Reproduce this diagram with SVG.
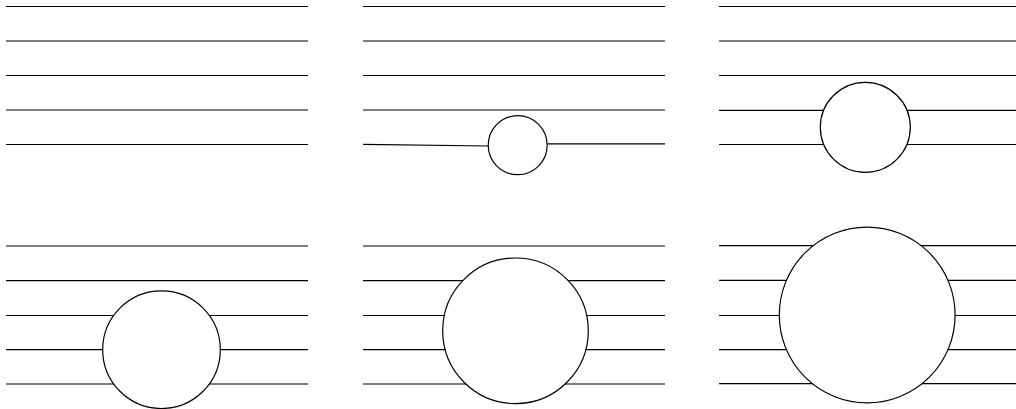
<svg xmlns="http://www.w3.org/2000/svg" width="1016" height="409" viewBox="0 0 1016 409">
<style>
.l{stroke:#000;stroke-width:1.2;fill:none}
.c{stroke:#000;stroke-width:1.2;fill:#fff}
</style>
<rect width="1016" height="409" fill="#fff"/>
<g id="connectors">
<g id="lines-p1">
<line class="l" x1="6" y1="6.5" x2="308" y2="6.5"/>
<line class="l" x1="6" y1="41" x2="308" y2="41"/>
<line class="l" x1="6" y1="75.5" x2="308" y2="75.5"/>
<line class="l" x1="6" y1="110" x2="308" y2="110"/>
<line class="l" x1="6" y1="144.5" x2="308" y2="144.5"/>
</g>
<g id="lines-p2">
<line class="l" x1="363" y1="6.5" x2="665" y2="6.5"/>
<line class="l" x1="363" y1="41" x2="665" y2="41"/>
<line class="l" x1="363" y1="75.5" x2="665" y2="75.5"/>
<line class="l" x1="363" y1="110" x2="665" y2="110"/>
<line class="l" x1="363" y1="144.3" x2="488.5" y2="146"/>
<line class="l" x1="547" y1="143.8" x2="665" y2="143.8"/>
</g>
<g id="lines-p3">
<line class="l" x1="719" y1="6.5" x2="1016" y2="6.5"/>
<line class="l" x1="719" y1="41" x2="1016" y2="41"/>
<line class="l" x1="719" y1="75.5" x2="1016" y2="75.5"/>
<line class="l" x1="719" y1="110.3" x2="1016" y2="110.3"/>
<line class="l" x1="719" y1="144.5" x2="1016" y2="144.5"/>
</g>
<g id="lines-p4">
<line class="l" x1="6" y1="246" x2="308" y2="246"/>
<line class="l" x1="6" y1="280.7" x2="308" y2="280.7"/>
<line class="l" x1="6" y1="315.5" x2="308" y2="315.5"/>
<line class="l" x1="6" y1="349.7" x2="308" y2="349.7"/>
<line class="l" x1="6" y1="384" x2="308" y2="384"/>
</g>
<g id="lines-p5">
<line class="l" x1="363" y1="246" x2="665" y2="246"/>
<line class="l" x1="363" y1="280.7" x2="665" y2="280.7"/>
<line class="l" x1="363" y1="315.5" x2="665" y2="315.5"/>
<line class="l" x1="363" y1="349.7" x2="665" y2="349.7"/>
<line class="l" x1="363" y1="384" x2="665" y2="384"/>
</g>
<g id="lines-p6">
<line class="l" x1="719" y1="245.7" x2="1016" y2="245.7"/>
<line class="l" x1="719" y1="280.3" x2="1016" y2="280.3"/>
<line class="l" x1="719" y1="315.5" x2="1016" y2="315.5"/>
<line class="l" x1="719" y1="349.7" x2="1016" y2="349.7"/>
<line class="l" x1="719" y1="383.7" x2="1016" y2="383.7"/>
</g>
</g>
<g id="circle-p2"><circle class="c" cx="517.7" cy="145.2" r="29.5"/></g>
<g id="circle-p3"><circle class="c" cx="865.3" cy="127.3" r="45"/></g>
<g id="circle-p4"><circle class="c" cx="161.5" cy="349.7" r="58.8"/></g>
<g id="circle-p5"><circle class="c" cx="515.5" cy="330.8" r="72.8"/></g>
<g id="circle-p6"><circle class="c" cx="867.2" cy="315" r="87.9"/></g>
</svg>
